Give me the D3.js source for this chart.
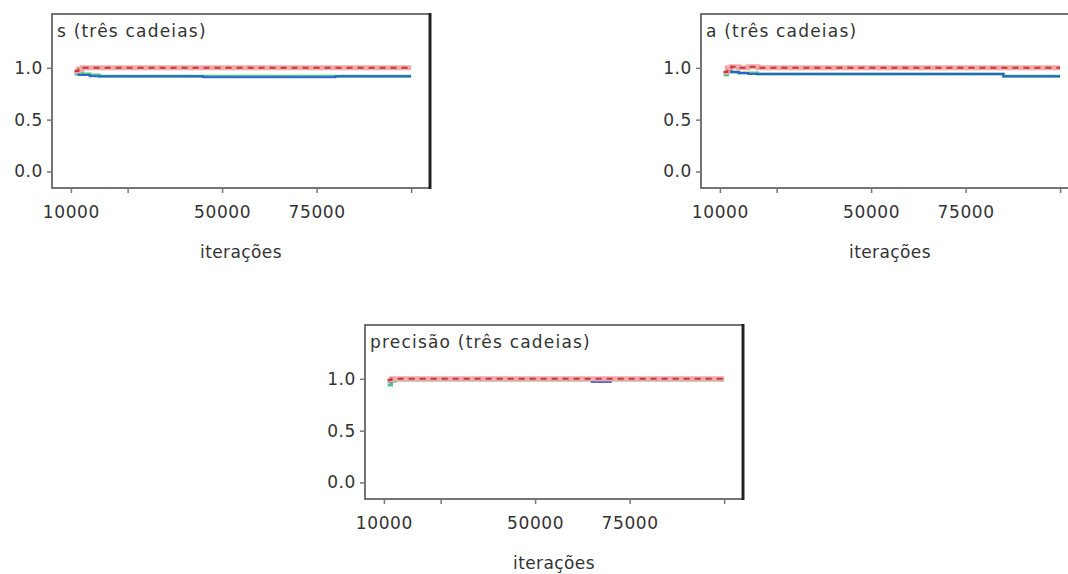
<!DOCTYPE html>
<html>
<head>
<meta charset="utf-8">
<script src="https://cdn.jsdelivr.net/npm/d3@7"></script>
<style>
  body { margin: 0; background: #fff; }
  svg { display: block; }
  text { font-family: "DejaVu Sans", sans-serif; fill: #333; }
</style>
</head>
<body>
<div id="chart"></div>
<script>
const iteracoes = [11000, 12000, 13000, 15000, 17500, 20000, 25000, 30000, 35000, 40000, 45000,
                   50000, 55000, 60000, 65000, 70000, 75000, 80000, 85000, 90000, 95000, 100000];

// s
const sRed   = [0.97, 0.99, 1.00, 1.00, 1.00, 1.00, 1.00, 1.00, 1.00, 1.00, 1.00, 1.00, 1.00, 1.00, 1.00, 1.00, 1.00, 1.00, 1.00, 1.00, 1.00, 1.00];
const sGreen = [0.94, 0.95, 0.94, 0.93, 0.92, 0.92, 0.92, 0.92, 0.92, 0.92, 0.92, 0.92, 0.92, 0.92, 0.92, 0.92, 0.92, 0.92, 0.92, 0.92, 0.92, 0.92];
const sBlue  = [0.96, 0.93, 0.93, 0.92, 0.92, 0.92, 0.92, 0.92, 0.92, 0.92, 0.91, 0.91, 0.91, 0.91, 0.91, 0.91, 0.91, 0.92, 0.92, 0.92, 0.92, 0.92];

// a
const aRed   = [0.96, 1.00, 1.01, 1.00, 1.01, 1.00, 1.00, 1.00, 1.00, 1.00, 1.00, 1.00, 1.00, 1.00, 1.00, 1.00, 1.00, 1.00, 1.00, 1.00, 1.00, 1.00];
const aGreen = [0.93, 0.97, 0.96, 0.95, 0.95, 0.94, 0.94, 0.94, 0.94, 0.94, 0.94, 0.94, 0.94, 0.94, 0.94, 0.94, 0.94, 0.94, 0.92, 0.92, 0.92, 0.92];
const aBlue  = [0.95, 0.97, 0.96, 0.95, 0.94, 0.94, 0.94, 0.94, 0.94, 0.94, 0.94, 0.94, 0.94, 0.94, 0.94, 0.94, 0.94, 0.94, 0.92, 0.92, 0.92, 0.92];

// precisao
const pRed   = [0.99, 1.00, 1.00, 1.00, 1.00, 1.00, 1.00, 1.00, 1.00, 1.00, 1.00, 1.00, 1.00, 1.00, 1.00, 1.00, 1.00, 1.00, 1.00, 1.00, 1.00, 1.00];
const pGreen = [0.94, 0.98, 0.99, 0.99, 0.99, 0.99, 0.99, 0.99, 0.99, 0.99, 0.99, 0.99, 0.99, 0.99, 0.99, 0.99, 0.99, 0.99, 0.99, 0.99, 0.99, 0.99];
const pBlue  = [0.97, 0.99, 1.00, 0.99, 0.99, 0.99, 0.99, 0.99, 0.99, 0.99, 0.99, 0.99, 0.99, 0.99, 0.97, 0.99, 0.99, 0.99, 0.99, 0.99, 0.99, 0.99];

const xTicks = [10000, 25000, 50000, 75000, 100000];
const xLabeled = [10000, 50000, 75000];
const yTicks = [0.0, 0.5, 1.0];

const W = 1068, H = 574;
const svg = d3.select("#chart").append("svg").attr("width", W).attr("height", H);

function drawPanel(title, left, top, red, green, blue) {
    const width = 378, height = 174;
    const g = svg.append("g").attr("transform", "translate(" + left + "," + top + ")");
    const x = d3.scaleLinear().domain([5000, 105000]).range([0, width]);
    const y = d3.scaleLinear().domain([-0.16, 1.52]).range([height, 0]);

    // box
    g.append("rect").attr("width", width).attr("height", height)
        .attr("fill", "none").attr("stroke", "#666").attr("stroke-width", 1.8);
    g.append("line").attr("x1", width).attr("x2", width).attr("y1", -1).attr("y2", height + 1)
        .attr("stroke", "#222").attr("stroke-width", 3);

    // axes
    const ya = g.append("g").call(d3.axisLeft(y).tickValues(yTicks).tickSize(5).tickPadding(4).tickFormat(d3.format(".1f")));
    const xa = g.append("g").attr("transform", "translate(0," + height + ")")
        .call(d3.axisBottom(x).tickValues(xTicks).tickSize(5).tickPadding(13)
            .tickFormat(function (d) { return xLabeled.includes(d) ? d : ""; }));
    [ya, xa].forEach(function (a) {
        a.select(".domain").remove();
        a.selectAll(".tick line").attr("stroke", "#777").attr("stroke-width", 1.5);
        a.selectAll(".tick text").style("font-size", "17px").attr("fill", "#333")
            .style("letter-spacing", "0.6px")
            .style("font-family", "DejaVu Sans, sans-serif");
    });
    g.append("text").attr("x", width / 2).attr("y", height + 70).attr("text-anchor", "middle")
        .style("font-size", "17px").style("letter-spacing", "0.4px").text("iterações");
    g.append("text").attr("x", 5).attr("y", 23).style("font-size", "17px")
        .style("letter-spacing", "1.2px").text(title);

    const line = function (vals) {
        return d3.line().curve(d3.curveStepAfter)
            .x(function (d, i) { return x(iteracoes[i]); })
            .y(function (d) { return y(d); })(vals);
    };
    g.append("path").attr("d", line(green)).attr("fill", "none")
        .attr("stroke", "#4cc48a").attr("stroke-width", 3);
    g.append("path").attr("d", line(blue)).attr("fill", "none")
        .attr("stroke", "#2448dc").attr("stroke-width", 2).attr("stroke-opacity", 0.8);
    g.append("path").attr("d", line(red)).attr("fill", "none")
        .attr("stroke", "#f6a8a8").attr("stroke-width", 5);
    g.append("path").attr("d", line(red)).attr("fill", "none")
        .attr("stroke", "#c0393c").attr("stroke-width", 2).attr("stroke-dasharray", "6,5");
}

drawPanel("s (três cadeias)", 52, 14, sRed, sGreen, sBlue);
drawPanel("a (três cadeias)", 701, 14, aRed, aGreen, aBlue);
drawPanel("precisão (três cadeias)", 365, 325, pRed, pGreen, pBlue);
</script>
</body>
</html>
